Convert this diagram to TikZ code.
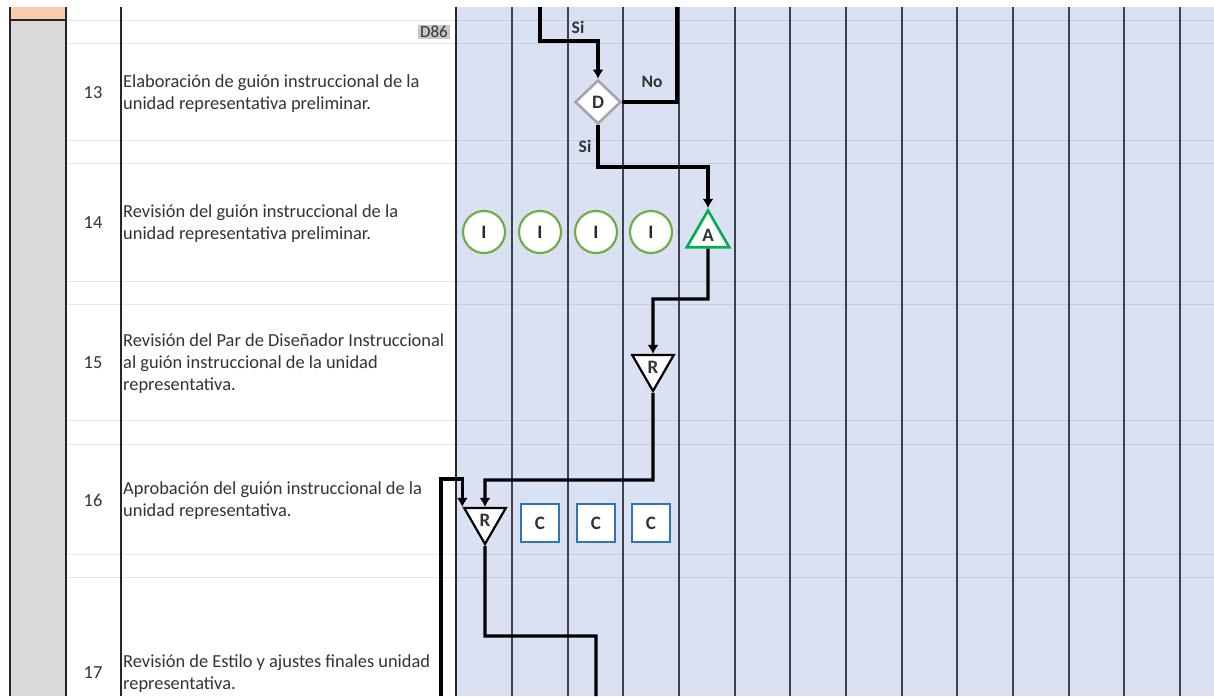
\documentclass[tikz,border=0pt]{standalone}
\usepackage{fontspec}
\setmainfont{Carlito}
\usetikzlibrary{shapes.geometric,arrows.meta,positioning}

\definecolor{lane}{HTML}{D9E1F2}
\definecolor{sidegray}{HTML}{D9D9D9}
\definecolor{peach}{HTML}{F8CBAD}
\definecolor{txtgray}{HTML}{333333}
\definecolor{infogreen}{HTML}{70AD47}
\definecolor{aprgreen}{HTML}{00B050}
\definecolor{consblue}{HTML}{2E75B6}
\definecolor{decgray}{HTML}{A6A6A6}
\definecolor{lanegray}{HTML}{3C4250}

\tikzset{
    rowrule/.style={draw=black, opacity=0.09, line width=1pt},
    colrule/.style={draw=black!85, line width=1.5pt},
    lanerule/.style={draw=lanegray, line width=1.6pt},
    task/.style={anchor=west, align=left, inner sep=0pt, text=txtgray, font=\fontsize{18.4}{22}\selectfont},
    rownum/.style={inner sep=0pt, text=txtgray, font=\fontsize{18.4}{22}\selectfont},
    flag/.style={inner sep=0pt, font=\bfseries\fontsize{17.5}{17.5}\selectfont, text=txtgray},
    info/.style={circle, draw=infogreen, line width=2.2pt, fill=white, minimum size=42pt, inner sep=0pt, font=\bfseries\fontsize{19}{19}\selectfont, text=black!85},
    cons/.style={rectangle, draw=consblue, line width=2.2pt, fill=white, minimum size=38pt, inner sep=0pt, font=\bfseries\fontsize{19}{19}\selectfont, text=txtgray},
    approve/.style={regular polygon, regular polygon sides=3, draw=aprgreen, line width=2.6pt, fill=white, minimum size=49pt, inner sep=0pt, font=\bfseries\fontsize{19}{19}\selectfont, text=txtgray},
    review/.style={regular polygon, regular polygon sides=3, shape border rotate=180, draw=black, line width=2.2pt, fill=white, minimum size=48pt, inner sep=0pt, font=\bfseries\fontsize{19}{19}\selectfont, text=txtgray},
    decide/.style={diamond, draw=decgray, line width=2.6pt, fill=white, minimum width=46pt, minimum height=44pt, inner sep=0pt, font=\bfseries\fontsize{19}{19}\selectfont, text=txtgray}
}

\begin{document}
\begin{tikzpicture}[x=1pt,y=-1pt]
    \useasboundingbox (0,0) rectangle (1214,696);
    \fill [white] (0,0) rectangle (1214,696);

    % lanes and side column
    \fill [lane] (456,7) rectangle (1214,696);
    \fill [sidegray] (10,20) rectangle (66,696);
    \fill [peach] (10,7) rectangle (66,20);

    % row rules
    \draw [rowrule] (66,20) -- (1214,20) (66,43) -- (1214,43)
        (66,140) -- (1214,140) (66,163) -- (1214,163)
        (66,281) -- (1214,281) (66,304) -- (1214,304)
        (66,420) -- (1214,420) (66,444) -- (1214,444)
        (66,554) -- (1214,554) (66,577) -- (1214,577);

    % column rules
    \draw [colrule] (10,7) -- (10,696) (66,7) -- (66,696) (121,7) -- (121,696) (456,7) -- (456,696) (10,20) -- (66,20);
    \draw [lanerule] (512,7) -- (512,696) (568,7) -- (568,696) (623,7) -- (623,696)
        (679,7) -- (679,696) (735,7) -- (735,696) (790,7) -- (790,696)
        (846,7) -- (846,696) (902,7) -- (902,696) (957,7) -- (957,696)
        (1013,7) -- (1013,696) (1069,7) -- (1069,696) (1124,7) -- (1124,696)
        (1180,7) -- (1180,696);

    \node (ref) at (450,32) [anchor=east, fill=black!22, inner xsep=2pt, inner ysep=1.5pt, text=txtgray, font=\fontsize{17}{17}\selectfont] {D86};

    % activities
    \node (num13) at (93,93) [rownum] {13};
    \node (txt13) at (123,94) [task] {Elaboración de guión instruccional de la\\unidad representativa preliminar.};
    \node (num14) at (93,223) [rownum] {14};
    \node (txt14) at (123,224) [task] {Revisión del guión instruccional de la\\unidad representativa preliminar.};
    \node (num15) at (93,363) [rownum] {15};
    \node (txt15) at (123,364) [task] {Revisión del Par de Diseñador Instruccional\\al guión instruccional de la unidad\\representativa.};
    \node (num16) at (93,500) [rownum] {16};
    \node (txt16) at (123,501) [task] {Aprobación del guión instruccional de la\\unidad representativa.};
    \node (num17) at (93,673) [rownum] {17};
    \node (txt17) at (123,674) [task] {Revisión de Estilo y ajustes finales unidad\\representativa.};

    % symbols
    \node (dec) at (598,102) [decide] {D};
    \node (inf1) at (484,232) [info] {I};
    \node (inf2) at (540,232) [info] {I};
    \node (inf3) at (596,232) [info] {I};
    \node (inf4) at (651,232) [info] {I};
    \node (apr) at (708,235) [approve] {A};
    \node (rev) at (653,367) [review] {R};
    \node (apb) at (485,520) [review] {R};
    \node (cons1) at (540,523) [cons] {C};
    \node (cons2) at (596,523) [cons] {C};
    \node (cons3) at (651,523) [cons] {C};

    % bends and loose ends
    \node (topsi) [coordinate] at (540,7) {};
    \node (sibend) [coordinate] at (540,41) {};
    \node (notop) [coordinate] at (677,7) {};
    \node (sibelow) [coordinate] at (598,167) {};
    \node (revbend) [coordinate] at (653,299) {};
    \node (apbbend) [coordinate] at (485,480) {};
    \node (loopbot) [coordinate] at (441,696) {};
    \node (looptop) [coordinate] at (441,479) {};
    \node (outbend) [coordinate] at (485,636) {};
    \node (outbot) [coordinate] at (596,696) {};

    \path [line width=3.3pt, ->, >={Latex[length=9pt,width=11pt]}]
        (topsi) edge [to path={-- (sibend) -| (\tikztotarget)}] (dec.north)
        (dec.east) edge [-, to path={-| (\tikztotarget)}] (notop)
        (dec.south) edge [to path={-- (sibelow) -| (\tikztotarget)}] (apr.north)
        (apr.south) edge [to path={|- (revbend) -- (\tikztotarget)}] (rev.north)
        (rev.south) edge [to path={|- (apbbend) -- (\tikztotarget)}] (apb.north)
        (loopbot) edge [to path={-- (looptop) -| (\tikztotarget)}] (apb.corner 3)
        (apb.south) edge [-, to path={-- (outbend) -| (\tikztotarget)}] (outbot)
    ;

    \node at (578,27) [flag] {Si};
    \node at (652,82) [flag] {No};
    \node at (585,146) [flag] {Si};
\end{tikzpicture}
\end{document}
